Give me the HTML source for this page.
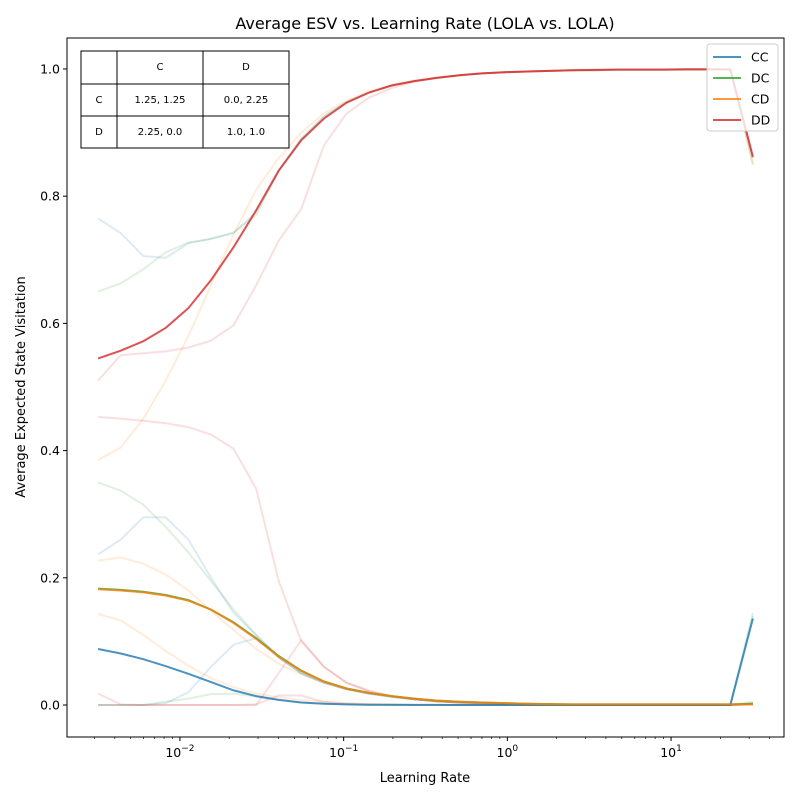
<!DOCTYPE html>
<html><head><meta charset="utf-8"><style>
body{margin:0;background:#fff;font-family:"Liberation Sans","DejaVu Sans",sans-serif}
svg text{font-family:"DejaVu Sans","Liberation Sans",sans-serif}
</style></head><body>
<svg id="chart" width="800" height="800" viewBox="0 0 800 800" xmlns="http://www.w3.org/2000/svg">
<rect width="800" height="800" fill="#fff"/>
<text x="425" y="29" font-size="16" text-anchor="middle">Average ESV vs. Learning Rate (LOLA vs. LOLA)</text>
<g id="faint"></g><g id="main"></g>
<rect x="67" y="38" width="717" height="699" fill="none" stroke="#000" stroke-width="1"/>
<g id="axes"></g>
<text x="425" y="782" font-size="13" text-anchor="middle">Learning Rate</text>
<text transform="translate(25,387) rotate(-90)" font-size="13" text-anchor="middle">Average Expected State Visitation</text>
<g font-size="10" text-anchor="middle">
<rect x="81" y="51" width="208" height="97" fill="#fff" stroke="#000"/>
<line x1="117" y1="51" x2="117" y2="148" stroke="#000"/><line x1="203" y1="51" x2="203" y2="148" stroke="#000"/>
<line x1="81" y1="84" x2="289" y2="84" stroke="#000"/><line x1="81" y1="116" x2="289" y2="116" stroke="#000"/>
<text x="160" y="70">C</text><text x="246" y="70">D</text>
<text x="99" y="103">C</text><text x="160" y="103">1.25, 1.25</text><text x="246" y="103">0.0, 2.25</text>
<text x="99" y="135">D</text><text x="160" y="135">2.25, 0.0</text><text x="246" y="135">1.0, 1.0</text>
</g>
<g id="legend"></g>
</svg>
<script>
const logMin=-2.5, logMax=1.5, nPts=30;
const yTicks=[0,0.2,0.4,0.6,0.8,1.0];
const yTickLabels=["0.0","0.2","0.4","0.6","0.8","1.0"];
const xTickExps=[-2,-1,0,1];
const seriesNames=["CC","DC","CD","DD"];
const ccMain=[0.088,0.081,0.072,0.061,0.049,0.036,0.023,0.014,0.008,0.004,0.002,0.001,0.0005,0.0003,0.0002,0.0001,0,0,0,0,0,0,0,0,0,0,0,0,0,0.136];
const dcMain=[0.183,0.181,0.178,0.173,0.165,0.150,0.130,0.105,0.077,0.054,0.037,0.026,0.019,0.014,0.010,0.007,0.005,0.004,0.003,0.002,0.0015,0.001,0.001,0.001,0.001,0.001,0.001,0.001,0.001,0.002];
const cdMain=[0.182,0.180,0.177,0.172,0.164,0.150,0.129,0.104,0.076,0.054,0.037,0.026,0.019,0.014,0.010,0.007,0.005,0.004,0.003,0.002,0.0015,0.001,0.001,0.001,0.001,0.001,0.001,0.001,0.001,0.001];
const ddMain=[0.545,0.557,0.572,0.593,0.624,0.668,0.720,0.778,0.840,0.888,0.922,0.947,0.963,0.974,0.981,0.986,0.990,0.993,0.995,0.996,0.997,0.998,0.9985,0.999,0.999,0.999,0.9995,0.9995,0.9995,0.862];
const ccSeedA=[0.765,0.742,0.706,0.703,0.726,0.733,0.742,0.775,0.840,0.890,0.925,0.948,0.963,0.974,0.981,0.986,0.990,0.993,0.995,0.996,0.997,0.998,0.998,0.999,0.999,0.999,0.999,0.999,0.999,0.860];
const ccSeedB=[0.237,0.260,0.295,0.295,0.260,0.200,0.145,0.110,0.075,0.050,0.035,0.025,0.018,0.013,0.009,0.006,0.004,0.003,0.002,0.001,0.001,0,0,0,0,0,0,0,0,0.003];
const ccSeedC=[0,0,0,0.003,0.020,0.060,0.095,0.105,0.075,0.050,0.035,0.025,0.018,0.013,0.009,0.006,0.004,0.003,0.002,0.001,0.001,0,0,0,0,0,0,0,0,0.140];
const dcSeedA=[0.650,0.663,0.685,0.712,0.727,0.733,0.743,0.770,0.840,0.890,0.925,0.948,0.963,0.974,0.981,0.986,0.990,0.993,0.995,0.996,0.997,0.998,0.998,0.999,0.999,0.999,0.999,0.999,0.999,0.850];
const dcSeedB=[0.350,0.337,0.315,0.280,0.240,0.195,0.150,0.110,0.075,0.050,0.035,0.025,0.018,0.013,0.009,0.006,0.004,0.003,0.002,0.001,0.001,0,0,0,0,0,0,0,0,0.145];
const dcSeedC=[0,0,0,0.005,0.010,0.017,0.018,0.013,0.008,0.004,0.002,0.001,0,0,0,0,0,0,0,0,0,0,0,0,0,0,0,0,0,0.005];
const cdSeedA=[0.385,0.405,0.450,0.510,0.580,0.660,0.740,0.810,0.860,0.900,0.930,0.950,0.965,0.975,0.982,0.987,0.990,0.993,0.995,0.996,0.997,0.998,0.998,0.999,0.999,0.999,0.999,0.999,0.999,0.850];
const cdSeedB=[0.227,0.232,0.222,0.205,0.180,0.148,0.118,0.088,0.065,0.048,0.035,0.025,0.018,0.013,0.009,0.006,0.004,0.003,0.002,0.001,0.001,0,0,0,0,0,0,0,0,0.002];
const cdSeedC=[0.143,0.133,0.110,0.085,0.062,0.042,0.028,0.018,0.012,0.008,0.005,0.003,0.002,0.001,0,0,0,0,0,0,0,0,0,0,0,0,0,0,0,0.002];
const ddSeedA=[0.510,0.550,0.553,0.556,0.562,0.573,0.597,0.660,0.730,0.780,0.880,0.930,0.955,0.970,0.980,0.986,0.990,0.993,0.995,0.996,0.997,0.998,0.998,0.999,0.999,0.999,0.999,0.999,0.999,0.860];
const ddSeedB=[0.453,0.450,0.447,0.443,0.437,0.425,0.403,0.340,0.195,0.100,0.060,0.035,0.022,0.014,0.009,0.006,0.004,0.003,0.002,0.001,0.001,0,0,0,0,0,0,0,0,0.001];
const ddSeedC=[0.018,0.001,0,0,0,0,0,0.001,0.015,0.015,0.005,0.002,0.001,0,0,0,0,0,0,0,0,0,0,0,0,0,0,0,0,0.001];
const ddSeedD=[0,0,0,0,0,0,0,0,0.050,0.102,0.060,0.035,0.022,0.014,0.009,0.006,0.004,0.003,0.002,0.001,0.001,0,0,0,0,0,0,0,0,0.001];
const colors=["#1f77b4","#2ca02c","#ff7f0e","#d62728"];
const NS="http://www.w3.org/2000/svg";
const PX0=67,PX1=784,PY0=38,PY1=737;
const XL0=-2.69,XL1=1.69,YV0=-0.0503,YV1=1.0487;
function xScaleLog(l){return PX0+(l-XL0)/(XL1-XL0)*(PX1-PX0);}
function xIdx(i){return xScaleLog(logMin+(logMax-logMin)*i/(nPts-1));}
function yScale(v){return PY1-(v-YV0)/(YV1-YV0)*(PY1-PY0);}
function mk(tag,parent,attrs){const e=document.createElementNS(NS,tag);for(const k in attrs)e.setAttribute(k,attrs[k]);parent.appendChild(e);return e;}
function pathOf(arr){return arr.map((v,i)=>(i?"L":"M")+xIdx(i).toFixed(1)+","+yScale(v).toFixed(1)).join("");}
const faint=document.getElementById("faint"),main=document.getElementById("main"),axes=document.getElementById("axes"),legend=document.getElementById("legend");
const seeds=[[ccSeedA,ccSeedB,ccSeedC],[dcSeedA,dcSeedB,dcSeedC],[cdSeedA,cdSeedB,cdSeedC],[ddSeedA,ddSeedB,ddSeedC,ddSeedD]];
const mains=[ccMain,dcMain,cdMain,ddMain];
seeds.forEach((s,si)=>s.forEach((arr,j)=>{
 const p=mk("path",faint,{d:pathOf(arr),fill:"none",stroke:colors[si],"stroke-width":2,"stroke-opacity":0.15});
 
 
}));
mains.forEach((arr,si)=>{
 const p=mk("path",main,{d:pathOf(arr),fill:"none",stroke:colors[si],"stroke-width":2,"stroke-opacity":0.8});
 
 
});
yTicks.forEach((v,i)=>{const y=yScale(v);
 const t=mk("line",axes,{x1:PX0-4,x2:PX0,y1:y,y2:y,stroke:"#000"});
 
 
 const tx=mk("text",axes,{x:PX0-7,y:y+4.5,"font-size":12.5,"text-anchor":"end"});tx.textContent=yTickLabels[i];
 
 
});
for(let e=-3;e<=1;e++)for(let m=1;m<10;m++){const l=e+Math.log10(m);if(l<XL0||l>XL1)continue;const x=xScaleLog(l);
 const major=m===1;
 const t=mk("line",axes,{x1:x,x2:x,y1:PY1,y2:PY1+(major?4:2),stroke:"#000","stroke-width":major?1:0.7});
 
 
}
xTickExps.forEach(e=>{const x=xScaleLog(e);
 const tx=mk("text",axes,{x:x,y:PY1+20,"font-size":12.5,"text-anchor":"middle"});tx.textContent="10";
 const sp=mk("tspan",tx,{dy:-6,"font-size":9});sp.textContent=e<0?"\u2212"+Math.abs(e):String(e);
 
 
});
mk("rect",legend,{x:707,y:44,width:71,height:87,rx:3,fill:"#fff","fill-opacity":0.8,stroke:"#ccc"});
seriesNames.forEach((n,i)=>{const y=57+i*21;
 const g=mk("g",legend,{});
 
 
 mk("line",g,{x1:713,x2:741,y1:y,y2:y,stroke:colors[i],"stroke-width":2,"stroke-opacity":0.8});
 const t=mk("text",g,{x:751,y:y+4.5,"font-size":12.5});t.textContent=n;
});
</script>
</body></html>
